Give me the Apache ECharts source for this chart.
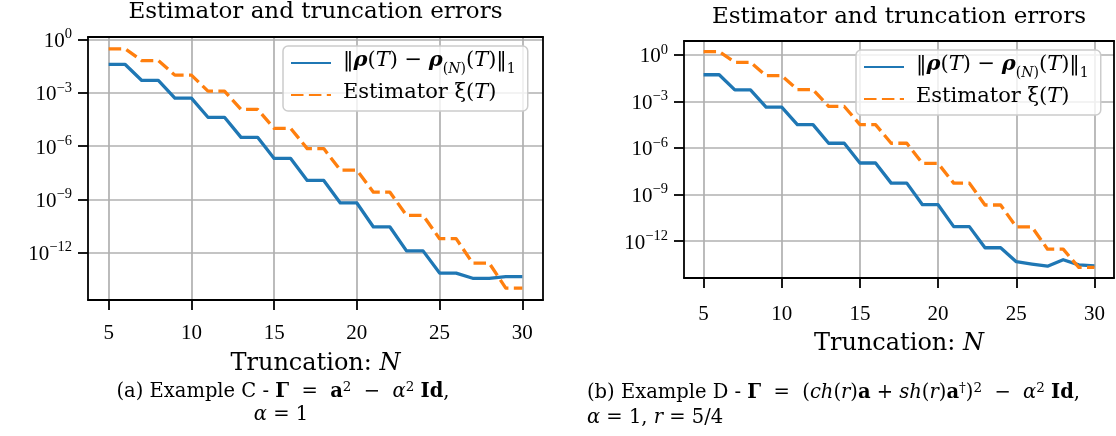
<!DOCTYPE html>
<html>
<head>
<meta charset="utf-8">
<script src="https://cdn.jsdelivr.net/npm/echarts@6/dist/echarts.min.js"></script>
<style>
html,body{margin:0;padding:0;background:#fff;}
#chart{width:1116px;height:436px;}
</style>
</head>
<body>
<div id="chart"></div>
<script>
// ---------------- data ----------------
const truncation = [5,6,7,8,9,10,11,12,13,14,15,16,17,18,19,20,21,22,23,24,25,26,27,28,29,30];
const xTicks = [5,10,15,20,25,30];
const yTickExponents = [-12,-9,-6,-3,0];

// Example C (left panel)
const errorC = [4.0e-2,4.0e-2,5.0e-3,5.0e-3,5.0e-4,5.0e-4,4.2e-5,4.2e-5,3.1e-6,3.1e-6,2.0e-7,2.0e-7,
                1.15e-8,1.15e-8,6.2e-10,6.2e-10,2.75e-11,2.75e-11,1.23e-12,1.23e-12,6.9e-14,6.9e-14,
                3.5e-14,3.5e-14,4.3e-14,4.3e-14];
const estimatorC = [3.0e-1,3.0e-1,6.6e-2,6.6e-2,1.0e-2,1.0e-2,1.26e-3,1.26e-3,1.17e-4,1.17e-4,1.0e-5,1.0e-5,
                    7.2e-7,7.2e-7,4.4e-8,4.4e-8,2.5e-9,2.5e-9,1.23e-10,1.23e-10,6.0e-12,6.0e-12,
                    2.5e-13,2.5e-13,9.8e-15,9.8e-15];
// Example D (right panel)
const errorD = [5.2e-2,5.2e-2,5.5e-3,5.5e-3,4.3e-4,4.3e-4,3.2e-5,3.2e-5,2.0e-6,2.0e-6,1.07e-7,1.07e-7,
                5.4e-9,5.4e-9,2.2e-10,2.2e-10,8.5e-12,8.5e-12,3.7e-13,3.7e-13,4.7e-14,3.3e-14,
                2.4e-14,6.3e-14,2.9e-14,2.5e-14];
const estimatorD = [1.6,1.6,3.3e-1,3.3e-1,4.5e-2,4.5e-2,5.8e-3,5.8e-3,4.7e-4,4.7e-4,3.2e-5,3.2e-5,
                    2.0e-6,2.0e-6,1.0e-7,1.0e-7,5.4e-9,5.4e-9,2.1e-10,2.1e-10,8.1e-12,8.1e-12,
                    3.0e-13,3.0e-13,2.0e-14,2.0e-14];

// ---------------- helpers ----------------
const SERIF = 'DejaVu Serif';
const NUM = 'Liberation Serif';
const toPts = (vals) => truncation.map((n, i) => [n, Math.log10(vals[i])]);

const yLabelRich = {
  b: {fontFamily: NUM, fontSize: 21, color: '#000', verticalAlign: 'bottom'},
  s: {fontFamily: NUM, fontSize: 14.5, color: '#000', verticalAlign: 'bottom', padding: [0,0,10,0]}
};
const yFmt = (v) => '{b|10}{s|' + (v === 0 ? '0' : '\u2212' + (-v)) + '}';

function mainXAxis(gi, margin, gap) {
  return {
    type: 'value', gridIndex: gi, min: 3.75, max: 31.25, position: 'bottom',
    axisLine: {show: true, onZero: false, lineStyle: {color: '#000', width: 1.8}},
    axisTick: {show: true, customValues: xTicks, length: 10, inside: false, lineStyle: {color: '#000', width: 1.8}},
    axisLabel: {show: true, customValues: xTicks, margin: margin, fontFamily: NUM, fontSize: 21, color: '#000'},
    splitLine: {show: true, lineStyle: {color: '#b0b0b0', width: 1.7}},
    name: '{n|Truncation: }{i|N}', nameLocation: 'middle', nameGap: gap,
    nameTextStyle: {rich: {
      n: {fontFamily: SERIF, fontSize: 24, color: '#000'},
      i: {fontFamily: SERIF, fontSize: 24, fontStyle: 'italic', color: '#000'}
    }}
  };
}
function mainYAxis(gi, min, max) {
  return {
    type: 'value', gridIndex: gi, min: min, max: max, position: 'left',
    axisLine: {show: true, onZero: false, lineStyle: {color: '#000', width: 1.8}},
    axisTick: {show: true, customValues: yTickExponents, length: 10, lineStyle: {color: '#000', width: 1.8}},
    axisLabel: {show: true, customValues: yTickExponents, margin: 16, formatter: yFmt, rich: yLabelRich},
    splitLine: {show: true, lineStyle: {color: '#b0b0b0', width: 1.7}}
  };
}
function borderX(gi) {
  return {type: 'value', gridIndex: gi, min: 3.75, max: 31.25, position: 'top', z: 10,
    axisLine: {show: true, onZero: false, lineStyle: {color: '#000', width: 1.8}},
    axisTick: {show: false}, axisLabel: {show: false}, splitLine: {show: false}};
}
function borderY(gi, min, max) {
  return {type: 'value', gridIndex: gi, min: min, max: max, position: 'right', z: 10,
    axisLine: {show: true, onZero: false, lineStyle: {color: '#000', width: 1.8}},
    axisTick: {show: false}, axisLabel: {show: false}, splitLine: {show: false}};
}

const LF = 21;
const legendRich = {
  n: {fontFamily: SERIF, fontSize: LF, color: '#000', verticalAlign: 'bottom', padding: [0,0,5,0]},
  i: {fontFamily: SERIF, fontSize: LF, fontStyle: 'italic', color: '#000', verticalAlign: 'bottom', padding: [0,0,5,0]},
  bi: {fontFamily: SERIF, fontSize: LF, fontStyle: 'italic', fontWeight: 'bold', color: '#000', verticalAlign: 'bottom', padding: [0,0,5,0]},
  sb: {fontFamily: SERIF, fontSize: 14, color: '#000', verticalAlign: 'bottom'},
  sbi: {fontFamily: SERIF, fontSize: 14, fontStyle: 'italic', color: '#000', verticalAlign: 'bottom'}
};
const legendText = {
  err: '{n|\u2016}{bi|\u03c1}{n|(}{i|T}{n|) \u2212 }{bi|\u03c1}{sb|(}{sbi|N}{sb|)}{n|(}{i|T}{n|)\u2016}{sb|1}',
  est: '{n|Estimator \u03be(}{i|T}{n|)}'
};
function legendBox(names, left, top) {
  return {
    data: names, orient: 'vertical', left: left, top: top,
    itemWidth: 40, itemHeight: 14, itemGap: 6,
    padding: [4, 12, 8, 7],
    itemStyle: {opacity: 0},
    backgroundColor: 'rgba(255,255,255,0.8)', borderColor: '#cccccc', borderWidth: 1.5, borderRadius: 5,
    formatter: (name) => legendText[name.slice(0,3)],
    textStyle: {rich: legendRich, padding: [0,0,0,7]}
  };
}

const CF = 19.5;
const capRich = {
  n: {fontFamily: SERIF, fontSize: CF, color: '#000', verticalAlign: 'bottom'},
  i: {fontFamily: SERIF, fontSize: CF, fontStyle: 'italic', color: '#000', verticalAlign: 'bottom'},
  b: {fontFamily: SERIF, fontSize: CF, fontWeight: 'bold', color: '#000', verticalAlign: 'bottom'},
  s: {fontFamily: SERIF, fontSize: 13.5, color: '#000', verticalAlign: 'bottom', padding: [0,0,8,0]}
};
function txt(x, y, text, align, rich, font) {
  return {type: 'text', x: x, y: y, silent: true,
    style: {text: text, align: align, verticalAlign: 'middle', rich: rich || {}, font: font || ('23px "' + SERIF + '"'), fill: '#000'}};
}

const lineBlue = {color: '#1f77b4', width: 3.3, join: 'round', cap: 'butt'};
const lineOrange = {color: '#ff7f0e', width: 3.3, type: [12.5, 5.4], join: 'round', cap: 'butt'};

const chart = echarts.init(document.getElementById('chart'), null, {renderer: 'canvas'});
chart.setOption({
  animation: false,
  backgroundColor: '#fff',
  grid: [
    {left: 88, top: 37, width: 455, height: 263, outerBoundsMode: 'none', containLabel: false},
    {left: 684, top: 41, width: 430, height: 237, outerBoundsMode: 'none', containLabel: false}
  ],
  xAxis: [mainXAxis(0, 23, 52), mainXAxis(1, 26, 54), borderX(0), borderX(1)],
  yAxis: [mainYAxis(0, -14.68, 0.15), mainYAxis(1, -14.38, 0.89), borderY(0, -14.68, 0.15), borderY(1, -14.38, 0.89)],
  legend: [legendBox(['errC', 'estC'], 283, 46), legendBox(['errD', 'estD'], 856, 50)],
  series: [
    {name: 'errC', type: 'line', xAxisIndex: 0, yAxisIndex: 0, symbol: 'none', lineStyle: lineBlue, itemStyle: {color: '#1f77b4'}, data: toPts(errorC)},
    {name: 'estC', type: 'line', xAxisIndex: 0, yAxisIndex: 0, symbol: 'none', lineStyle: lineOrange, itemStyle: {color: '#ff7f0e'}, data: toPts(estimatorC)},
    {name: 'errD', type: 'line', xAxisIndex: 1, yAxisIndex: 1, symbol: 'none', lineStyle: lineBlue, itemStyle: {color: '#1f77b4'}, data: toPts(errorD)},
    {name: 'estD', type: 'line', xAxisIndex: 1, yAxisIndex: 1, symbol: 'none', lineStyle: lineOrange, itemStyle: {color: '#ff7f0e'}, data: toPts(estimatorD)}
  ],
  graphic: [
    txt(315.5, 12.5, 'Estimator and truncation errors', 'center'),
    txt(899, 17, 'Estimator and truncation errors', 'center'),
    txt(283, 391, '{n|(a) Example C - }{b|\u0393}{n|  =  }{b|a}{s|2}{n|  \u2212  }{i|\u03b1}{s|2}{n| }{b|Id}{n|,}', 'center', capRich),
    txt(281, 415, '{i|\u03b1}{n| = 1}', 'center', capRich),
    txt(587, 392, '{n|(b) Example D - }{b|\u0393}{n|  =  (}{i|ch}{n|(}{i|r}{n|)}{b|a}{n| + }{i|sh}{n|(}{i|r}{n|)}{b|a}{s|\u2020}{n|)}{s|2}{n|  \u2212  }{i|\u03b1}{s|2}{n| }{b|Id}{n|,}', 'left', capRich),
    txt(587, 418, '{i|\u03b1}{n| = 1, }{i|r}{n| = 5/4}', 'left', capRich)
  ]
});
</script>
</body>
</html>
